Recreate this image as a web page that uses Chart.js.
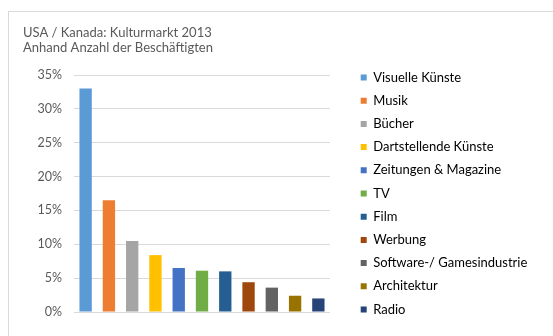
<!DOCTYPE html>
<html>
<head>
<meta charset="utf-8">
<script src="https://cdn.jsdelivr.net/npm/chart.js@4.4.1/dist/chart.umd.min.js"></script>
<style>
  html, body { margin: 0; padding: 0; background: #fff; }
  #wrap { position: relative; width: 553px; height: 336px; overflow: hidden; }
  #frame { position: absolute; left: 8px; top: 11px; width: 600px; height: 400px;
           border-top: 1px solid #d9d9d9; border-left: 1px solid #d9d9d9; }
  canvas { position: absolute; left: 0; top: 0; }
</style>
</head>
<body>
<div id="wrap">
  <div id="frame"></div>
  <canvas id="c" width="553" height="336"></canvas>
</div>
<script>
// Kulturmarkt USA / Kanada 2013 – share of employees per sector (in %)
const titleLines = ['USA / Kanada: Kulturmarkt 2013', 'Anhand Anzahl der Beschäftigten'];
const categories = ['Visuelle Künste', 'Musik', 'Bücher', 'Dartstellende Künste',
  'Zeitungen & Magazine', 'TV', 'Film', 'Werbung', 'Software-/ Gamesindustrie',
  'Architektur', 'Radio'];
const shares = [33.0, 16.5, 10.5, 8.4, 6.5, 6.1, 6.0, 4.4, 3.6, 2.4, 2.0];
const barColors = ['#5B9BD5', '#ED7D31', '#A5A5A5', '#FFC000', '#4472C4', '#70AD47',
  '#255E91', '#9E480E', '#636363', '#997300', '#264478'];
const yTicks = [0, 5, 10, 15, 20, 25, 30, 35];

const textColor = '#595959';
const fontFamily = 'Lato, "Open Sans", sans-serif';

// Keeps the legend column at a fixed width and nudges it away from the plot
const legendPlacement = {
  id: 'legendPlacement',
  beforeLayout(chart) {
    const lg = chart.legend;
    if (lg && !lg._fixedFit) {
      const fit = lg.fit.bind(lg);
      lg.fit = function () { fit(); this.width = 223; };
      lg._fixedFit = true;
    }
  },
  afterLayout(chart) {
    const lg = chart.legend;
    if (!lg) return;
    lg.left += 20.5; lg.right += 20.5;
    lg.top += 37.5; lg.bottom += 37.5;
  }
};

new Chart(document.getElementById('c'), {
  type: 'bar',
  data: {
    labels: categories,
    datasets: [{
      data: shares,
      backgroundColor: barColors,
      borderWidth: 0,
      barPercentage: 0.53,
      categoryPercentage: 1.0
    }]
  },
  options: {
    responsive: false,
    animation: false,
    devicePixelRatio: 1,
    layout: { padding: { left: 23, top: 0, right: 0, bottom: 24 } },
    plugins: {
      title: {
        display: true,
        text: titleLines,
        align: 'start',
        color: textColor,
        font: { family: fontFamily, size: 13, weight: 'normal', lineHeight: 15 / 13 },
        padding: { top: 25, bottom: 20 }
      },
      legend: {
        display: true,
        position: 'right',
        align: 'center',
        labels: {
          color: textColor,
          font: { family: fontFamily, size: 13 },
          boxWidth: 6,
          boxHeight: 6,
          padding: 10.2,
          generateLabels: () => categories.map((name, i) => ({
            text: name,
            fillStyle: barColors[i],
            strokeStyle: barColors[i],
            lineWidth: 0,
            hidden: false,
            index: i
          }))
        }
      },
      tooltip: { enabled: false }
    },
    scales: {
      x: {
        display: false,
        offset: true
      },
      y: {
        min: yTicks[0],
        max: yTicks[yTicks.length - 1],
        afterBuildTicks: (scale) => { scale.ticks = yTicks.map(v => ({ value: v })); },
        afterFit: (scale) => { scale.width = 51; },
        border: { display: false },
        grid: { color: '#d9d9d9', lineWidth: 1, drawTicks: false },
        ticks: {
          color: textColor,
          padding: 12,
          font: { family: fontFamily, size: 12.5 },
          callback: (v) => v + '%'
        }
      }
    }
  },
  plugins: [legendPlacement]
});
</script>
</body>
</html>
